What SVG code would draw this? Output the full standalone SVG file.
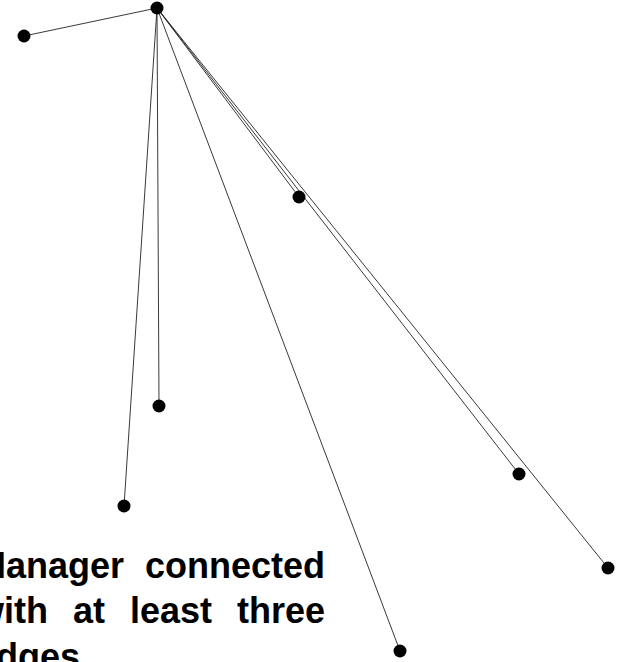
<svg xmlns="http://www.w3.org/2000/svg" width="627" height="662" viewBox="0 0 627 662">
<style>
.e{stroke:#222;stroke-width:0.9;fill:none}
.n{fill:#000}
.t{font-family:"Liberation Sans",Arial,sans-serif;font-weight:bold;font-size:36px;fill:#000}
</style>
<rect width="627" height="662" fill="#fff"/>
<g id="edges">
<line class="e" x1="157" y1="8" x2="24" y2="36"/>
<line class="e" x1="157" y1="8" x2="299" y2="197"/>
<line class="e" x1="157" y1="8" x2="159" y2="406"/>
<line class="e" x1="157" y1="8" x2="124" y2="506"/>
<line class="e" x1="157" y1="8" x2="519" y2="474"/>
<line class="e" x1="157" y1="8" x2="608" y2="568"/>
<line class="e" x1="157" y1="8" x2="400" y2="651"/>
</g>
<g id="n0"><circle class="n" cx="157" cy="8" r="6.5"/></g>
<g id="n1"><circle class="n" cx="24" cy="36" r="6.5"/></g>
<g id="n2"><circle class="n" cx="299" cy="197" r="6.5"/></g>
<g id="n3"><circle class="n" cx="159" cy="406" r="6.5"/></g>
<g id="n4"><circle class="n" cx="124" cy="506" r="6.5"/></g>
<g id="n5"><circle class="n" cx="519" cy="474" r="6.5"/></g>
<g id="n6"><circle class="n" cx="608" cy="568" r="6.5"/></g>
<g id="n7"><circle class="n" cx="400" cy="651" r="6.5"/></g>
<g id="caption">
<text class="t" y="578"><tspan x="-24">Manager</tspan><tspan x="325" text-anchor="end">connected</tspan></text>
<text class="t" y="623"><tspan x="-24">with</tspan><tspan x="73">at</tspan><tspan x="130">least</tspan><tspan x="325" text-anchor="end">three</tspan></text>
<text class="t" x="-24" y="669">edges</text>
</g>
</svg>
